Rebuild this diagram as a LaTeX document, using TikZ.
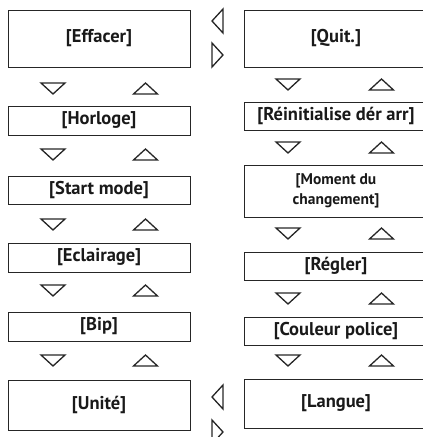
\documentclass[tikz,border=0pt]{standalone}
\usepackage{fontspec}
\setmainfont{PT Sans}
\begin{document}
\begin{tikzpicture}[x=1pt,y=-1pt,
  box/.style={draw=black!85, line width=1pt, inner sep=0pt, align=center,
    text=black!90, font=\bfseries\fontsize{18.5}{21}\selectfont},
  lbox/.style={box, minimum width=182pt},
  rbox/.style={box, minimum width=184pt},
  tri/.style={draw=black!85, line width=1.3pt, line join=miter}]
\useasboundingbox (0,0) rectangle (423,437);
\clip (0,0) rectangle (423,437);
% left column
\node[lbox, minimum height=57pt] (eff) at (99,38.5) {[Effacer]};
\node[lbox, minimum height=29pt] (hor) at (99,120.5) {[Horloge]};
\node[lbox, minimum height=28pt] (sta) at (99,190) {[Start mode]};
\node[lbox, minimum height=29pt] (ecl) at (99,257.5) {[Eclairage]};
\node[lbox, minimum height=29pt] (bip) at (99,326.5) {[Bip]};
\node[lbox, minimum height=50pt] (uni) at (99,405) {[Unité]};
% right column
\node[rbox, minimum height=57pt] (qui) at (336,38.5) {[Quit.]};
\node[rbox, minimum height=28pt] (rei) at (336,116) {[Réinitialise dér arr]};
\node[rbox, minimum height=52pt, font=\bfseries\fontsize{15.5}{19.5}\selectfont] (mom) at (336,191) {[Moment du\\changement]};
\node[rbox, minimum height=28pt] (reg) at (336,266) {[Régler]};
\node[rbox, minimum height=28pt] (cou) at (336,331) {[Couleur police]};
\node[rbox, minimum height=49pt] (lan) at (336,403.5) {[Langue]};
% down / up triangles
\foreach \y in {83,149,219,285,355}{
  \draw[tri] (41,\y) -- (65,\y) -- (53,\y+11) -- cycle;
  \draw[tri] (133.5,\y+11) -- (157.5,\y+11) -- (145.5,\y) -- cycle;
}
\foreach \y in {79,142,228,293,355}{
  \draw[tri] (276,\y) -- (300,\y) -- (288,\y+11) -- cycle;
  \draw[tri] (369.5,\y+11) -- (393.5,\y+11) -- (381.5,\y) -- cycle;
}
% left / right triangles
\draw[tri] (212,21) -- (223,9) -- (223,33) -- cycle;
\draw[tri] (212,43) -- (212,67) -- (223,55) -- cycle;
\draw[tri] (212,397) -- (223,385) -- (223,409) -- cycle;
\draw[tri] (212,420) -- (212,444) -- (223,432) -- cycle;
\end{tikzpicture}
\end{document}
